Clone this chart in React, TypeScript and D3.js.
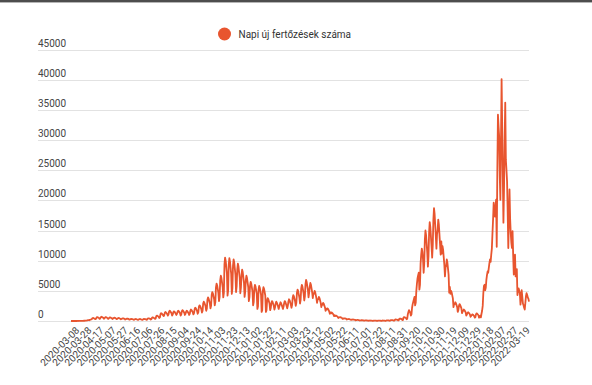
import React from 'react';
import * as d3 from 'd3';

const legendLabel = 'Napi új fertőzések száma';

const yTicks = [0, 5000, 10000, 15000, 20000, 25000, 30000, 35000, 40000, 45000];

// every 20th day is labelled, the first label is the 11th day of data
const tickLabels = [
  '2020-03-08', '2020-03-28', '2020-04-17', '2020-05-07', '2020-05-27', '2020-06-16',
  '2020-07-06', '2020-07-26', '2020-08-15', '2020-09-04', '2020-09-24', '2020-10-14',
  '2020-11-03', '2020-11-23', '2020-12-13', '2021-01-02', '2021-01-22', '2021-02-11',
  '2021-03-03', '2021-03-23', '2021-04-12', '2021-05-02', '2021-05-22', '2021-06-11',
  '2021-07-01', '2021-07-22', '2021-08-11', '2021-08-31', '2021-09-20', '2021-10-10',
  '2021-10-30', '2021-11-19', '2021-12-09', '2021-12-29', '2022-01-18', '2022-02-07',
  '2022-02-27', '2022-03-19'
];
const firstTickIndex = 10;
const tickEvery = 20;

// daily new cases, one row per week
const dailyCases = [
  0, 0, 0, 0, 0, 1, 0,
  2, 0, 4, 3, 5, 7, 4,
  9, 11, 13, 19, 26, 30, 36,
  46, 43, 57, 77, 72, 86, 103,
  140, 160, 125, 190, 220, 250, 300,
  450, 500, 475, 425, 375, 300, 360,
  585, 650, 620, 550, 490, 350, 420,
  630, 700, 665, 595, 525, 380, 455,
  585, 650, 620, 550, 490, 350, 420,
  540, 600, 570, 510, 450, 330, 395,
  495, 550, 520, 470, 410, 300, 360,
  450, 500, 475, 425, 375, 280, 335,
  405, 450, 430, 380, 340, 250, 300,
  360, 400, 380, 340, 300, 220, 265,
  315, 350, 330, 300, 260, 200, 240,
  300, 330, 315, 280, 250, 190, 230,
  300, 330, 315, 280, 250, 180, 215,
  315, 350, 330, 300, 260, 200, 240,
  405, 450, 430, 380, 340, 250, 300,
  540, 600, 570, 510, 450, 350, 420,
  810, 900, 855, 765, 675, 500, 600,
  1170, 1300, 1235, 1105, 975, 800, 960,
  1350, 1500, 1425, 1275, 1125, 900, 1080,
  1530, 1700, 1615, 1445, 1275, 900, 1080,
  1440, 1600, 1520, 1360, 1200, 1000, 1200,
  1530, 1700, 1615, 1445, 1275, 900, 1080,
  1620, 1800, 1710, 1530, 1350, 1000, 1200,
  1530, 1700, 1615, 1445, 1275, 1000, 1200,
  1710, 1900, 1805, 1615, 1425, 1100, 1320,
  1980, 2200, 2090, 1870, 1650, 1200, 1440,
  2340, 2600, 2470, 2210, 1950, 1400, 1680,
  2880, 3200, 3040, 2720, 2400, 1700, 2040,
  3510, 3900, 3705, 3315, 2925, 2100, 2520,
  4320, 4800, 4560, 4080, 3600, 2600, 3120,
  5580, 6200, 5890, 5270, 4650, 3300, 3960,
  6750, 7500, 7125, 6375, 5625, 3900, 4680,
  9450, 10500, 9975, 8925, 7875, 4200, 5040,
  9360, 10400, 9880, 8840, 7800, 4500, 5400,
  9180, 10200, 9690, 8670, 7650, 4800, 5760,
  8550, 9500, 9025, 8075, 7125, 4600, 5520,
  7650, 8500, 8075, 7225, 6375, 4000, 4800,
  6750, 7500, 7125, 6375, 5625, 3300, 3960,
  5850, 6500, 6175, 5525, 4875, 2600, 3120,
  5400, 6000, 5700, 5100, 4500, 2000, 2400,
  5220, 5800, 5510, 4930, 4350, 1500, 1800,
  5040, 5600, 5320, 4760, 4200, 1500, 1800,
  3420, 3800, 3610, 3230, 2850, 1800, 2160,
  2970, 3300, 3135, 2805, 2475, 1900, 2280,
  2880, 3200, 3040, 2720, 2400, 2000, 2400,
  2790, 3100, 2945, 2635, 2325, 2000, 2400,
  2970, 3300, 3135, 2805, 2475, 2100, 2520,
  3240, 3600, 3420, 3060, 2700, 2200, 2640,
  3870, 4300, 4085, 3655, 3225, 2500, 3000,
  4680, 5200, 4940, 4420, 3900, 2900, 3480,
  5400, 6000, 5700, 5100, 4500, 3400, 4080,
  6120, 6800, 6460, 5780, 5100, 3900, 4680,
  5670, 6300, 5985, 5355, 4725, 3800, 4560,
  4500, 5000, 4750, 4250, 3750, 3000, 3600,
  3600, 4000, 3800, 3400, 3000, 2300, 2760,
  2700, 3000, 2850, 2550, 2250, 1700, 2040,
  1890, 2100, 1995, 1785, 1575, 1200, 1440,
  1260, 1400, 1330, 1190, 1050, 800, 960,
  810, 900, 855, 765, 675, 500, 600,
  585, 650, 620, 550, 490, 350, 420,
  405, 450, 430, 380, 340, 250, 300,
  300, 330, 315, 280, 250, 180, 215,
  225, 250, 240, 210, 190, 120, 145,
  160, 180, 170, 155, 135, 80, 95,
  115, 130, 125, 110, 100, 50, 60,
  90, 100, 95, 85, 75, 40, 48,
  72, 80, 76, 68, 60, 30, 36,
  63, 70, 66, 60, 52, 25, 30,
  63, 70, 66, 60, 52, 25, 30,
  72, 80, 76, 68, 60, 30, 36,
  99, 110, 105, 94, 82, 40, 48,
  144, 160, 152, 136, 120, 60, 72,
  225, 250, 238, 212, 188, 90, 108,
  360, 400, 380, 340, 300, 150, 180,
  585, 650, 620, 550, 490, 300, 360,
  1100, 1500, 1800, 1600, 1400, 900, 1100,
  2200, 2800, 3200, 3600, 4000, 2600, 3000,
  5000, 6200, 7100, 7600, 8000, 5200, 6000,
  9500, 11000, 12000, 11400, 10200, 8000, 9600,
  13500, 15000, 14250, 12750, 11250, 9000, 10800,
  14760, 16400, 15580, 13940, 12300, 10500, 12600,
  16830, 18700, 17765, 15900, 14025, 12000, 14400,
  15120, 16800, 15960, 14280, 12600, 11000, 13200,
  11160, 12400, 11780, 10540, 9300, 7400, 8880,
  9180, 10200, 9690, 8670, 7650, 4700, 5640,
  4500, 5000, 4750, 4250, 3750, 2300, 2760,
  2790, 3100, 2945, 2635, 2325, 1500, 1800,
  2520, 2800, 2660, 2380, 2100, 1300, 1560,
  1710, 1900, 1805, 1615, 1425, 900, 1080,
  1305, 1450, 1380, 1235, 1090, 700, 840,
  990, 1100, 1045, 935, 825, 550, 660,
  1130, 1260, 1200, 1070, 945, 550, 660,
  900, 600, 1200, 1700, 2500, 4600, 5800,
  6000, 5100, 5500, 6800, 7600, 8200, 8000,
  8800, 9600, 10200, 9800, 11000, 12000, 14500,
  16800, 19600, 18000, 17300, 19000, 20100, 12300,
  25000, 34200, 32300, 30600, 24000, 20100, 30000,
  40100, 32200, 24000, 16300, 22000, 30000, 36200,
  26700, 25000, 23100, 18000, 12100, 17000, 21800,
  17000, 14600, 13000, 12100, 14900, 11000, 7700,
  9000, 11000, 7400, 7900, 8600, 4300, 5000,
  5400, 5000, 4600, 2700, 3800, 5100, 4000,
  2900, 2600, 2200, 1900, 3000, 4100, 4600,
  4300, 3900, 3700, 3200
];

const W = 592;
const H = 385;
const lineColor = '#e8552f';
const font = 'Roboto, "Noto Sans", sans-serif';

export default function App() {
  const x = d3.scaleLinear().domain([0, dailyCases.length - 1]).range([71, 529]);
  const y = d3.scaleLinear().domain([0, 45000]).range([321, 49.5]);

  const line = d3
    .line<number>()
    .x((_, i) => x(i))
    .y((d) => y(d));

  return (
    <svg
      width={W}
      height={H}
      style={{ position: 'absolute', left: 0, top: 0, background: '#fff' }}
      fontFamily={font}
    >
      <rect x={0} y={0} width={W} height={2} fill="#4d4d4d" />
      <rect x={0} y={2} width={W} height={1} fill="#b5b5b5" />

      {/* legend */}
      <circle cx={224.5} cy={34} r={6.5} fill={lineColor} />
      <text x={238.5} y={37.5} fontSize={10} fill="#333">
        {legendLabel}
      </text>

      {/* y grid + labels */}
      {yTicks.map((t) => (
        <g key={t}>
          <line
            x1={38}
            x2={529}
            y1={Math.round(y(t)) + 0.5}
            y2={Math.round(y(t)) + 0.5}
            stroke="#e2e2e2"
            strokeWidth={1}
          />
          <text x={38} y={y(t) - 3} fontSize={10} fill="#444">
            {t}
          </text>
        </g>
      ))}

      <path
        d={line(dailyCases) || ''}
        fill="none"
        stroke={lineColor}
        strokeWidth={1.8}
        strokeLinejoin="round"
      />

      {/* x labels */}
      {tickLabels.map((lab, k) => {
        const tx = x(firstTickIndex + k * tickEvery) + 3;
        return (
          <text
            key={lab}
            transform={`translate(${tx},331) rotate(-45)`}
            textAnchor="end"
            fontSize={10}
            fill="#444"
          >
            {lab}
          </text>
        );
      })}
    </svg>
  );
}
